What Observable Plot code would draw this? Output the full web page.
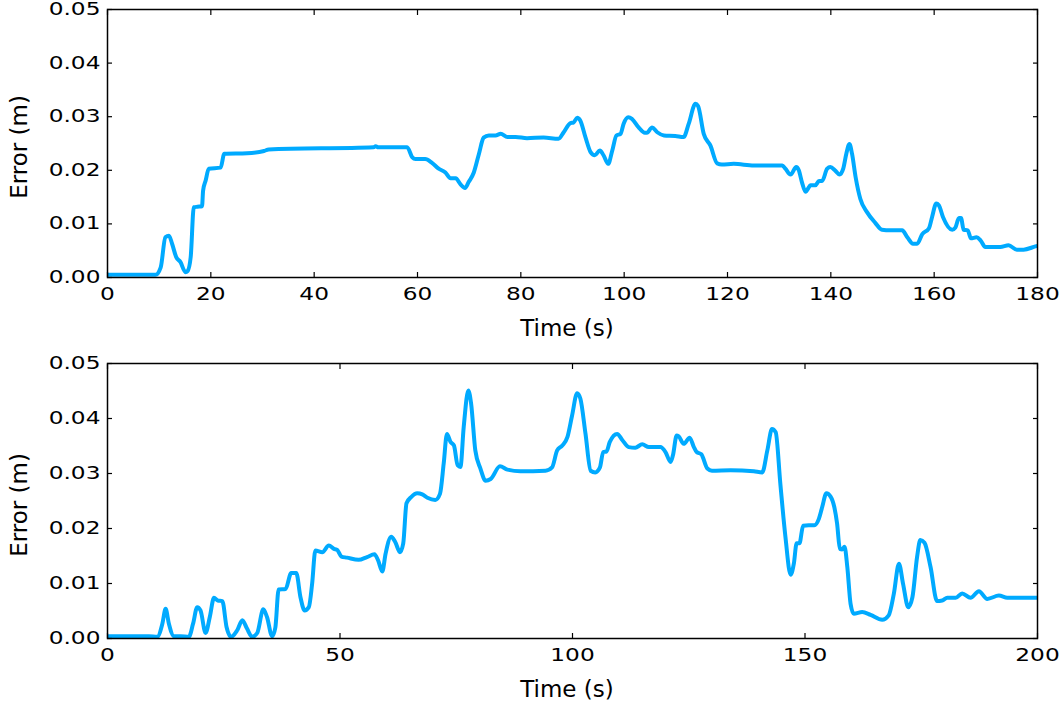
<!DOCTYPE html>
<html>
<head>
<meta charset="utf-8">
<script src="https://cdn.jsdelivr.net/npm/d3@7"></script>
<script src="https://cdn.jsdelivr.net/npm/@observablehq/plot@0.6"></script>
<style>
  html, body { margin: 0; padding: 0; background: white; }
  #chart svg { display: block; }
</style>
</head>
<body>
<div id="chart"></div>
<script>
// ---- Data ----
const topTime = [0, 9.3, 10.3, 11.2, 11.9, 12.5, 13.3, 14.1, 15.1, 15.5, 16.1, 16.7, 17.4, 18.3, 18.5, 19.0, 19.6, 21.9, 22.6, 27.0, 30.3, 31.2, 51.5, 51.9, 52.4, 58.0, 59.0, 59.6, 61.5, 62.8, 64.1, 65.4, 66.4, 67.4, 68.3, 69.2, 69.9, 70.9, 71.9, 72.8, 73.8, 75.1, 76.1, 77.4, 79.0, 81.2, 84.4, 87.3, 88.3, 89.6, 90.2, 90.9, 91.5, 92.5, 93.5, 94.3, 95.3, 96.0, 96.9, 97.7, 98.5, 99.3, 99.9, 100.8, 101.5, 102.8, 104.0, 104.4, 105.4, 106.4, 107.7, 109.9, 111.5, 112.5, 113.8, 114.3, 115.4, 116.7, 118.0, 118.9, 121.2, 125.1, 130.6, 131.2, 132.2, 133.3, 133.8, 134.4, 135.1, 136.1, 137.0, 137.7, 138.3, 139.3, 139.9, 140.9, 141.7, 142.4, 143.0, 143.6, 144.1, 144.8, 145.7, 147.0, 148.6, 149.9, 151.5, 153.8, 154.8, 155.9, 156.7, 157.7, 159.0, 159.6, 160.4, 160.9, 161.7, 163.5, 164.1, 164.8, 165.2, 165.7, 166.5, 167.1, 168.2, 169.0, 169.9, 172.8, 174.4, 176.0, 177.3, 179.6, 180];
const topError = [0.0005, 0.0005, 0.0019, 0.0075, 0.0078, 0.0063, 0.0038, 0.0029, 0.0010, 0.0012, 0.0038, 0.0131, 0.0132, 0.0133, 0.0162, 0.0181, 0.0203, 0.0205, 0.0231, 0.0232, 0.0236, 0.0239, 0.0243, 0.0245, 0.0243, 0.0243, 0.0224, 0.0221, 0.0221, 0.0214, 0.0203, 0.0196, 0.0185, 0.0185, 0.0174, 0.0167, 0.0178, 0.0196, 0.0231, 0.0261, 0.0265, 0.0265, 0.0268, 0.0262, 0.0262, 0.0260, 0.0261, 0.0259, 0.0271, 0.0288, 0.0289, 0.0298, 0.0293, 0.0262, 0.0234, 0.0228, 0.0237, 0.0228, 0.0212, 0.0237, 0.0265, 0.0268, 0.0287, 0.0299, 0.0296, 0.0280, 0.0270, 0.0270, 0.0280, 0.0271, 0.0265, 0.0264, 0.0262, 0.0287, 0.0324, 0.0320, 0.0268, 0.0246, 0.0213, 0.0211, 0.0212, 0.0209, 0.0209, 0.0203, 0.0192, 0.0206, 0.0200, 0.0178, 0.0160, 0.0172, 0.0172, 0.0180, 0.0180, 0.0203, 0.0206, 0.0199, 0.0192, 0.0203, 0.0231, 0.0249, 0.0231, 0.0187, 0.0147, 0.0122, 0.0102, 0.0089, 0.0088, 0.0088, 0.0075, 0.0063, 0.0063, 0.0081, 0.0092, 0.0113, 0.0138, 0.0135, 0.0113, 0.0089, 0.0093, 0.0111, 0.0111, 0.0089, 0.0088, 0.0073, 0.0075, 0.0069, 0.0057, 0.0057, 0.0060, 0.0052, 0.0052, 0.0058, 0.0059];

const bottomTime = [0, 8.9, 10.7, 11.8, 12.5, 13.2, 14.3, 15.7, 17.5, 18.4, 19.3, 20.0, 21.1, 22.0, 22.9, 23.7, 24.7, 25.6, 26.6, 27.9, 29.0, 30.0, 31.1, 32.2, 33.5, 34.3, 35.4, 36.1, 36.8, 38.3, 39.5, 40.6, 41.5, 42.4, 43.3, 44.0, 44.7, 46.2, 47.6, 48.7, 49.4, 50.3, 51.5, 54.0, 55.8, 57.4, 58.2, 59.1, 59.8, 61.0, 61.9, 62.9, 63.6, 64.3, 65.3, 66.6, 67.7, 68.8, 70.5, 71.5, 72.3, 73.0, 73.8, 74.5, 75.3, 75.9, 76.6, 77.6, 78.2, 79.1, 80.2, 81.3, 82.4, 84.4, 86.0, 88.8, 94.2, 95.6, 96.7, 97.8, 98.9, 99.9, 101.0, 101.7, 102.8, 103.9, 104.9, 105.9, 106.6, 107.3, 108.0, 109.6, 110.7, 112.1, 113.5, 115.0, 116.4, 118.9, 120.0, 121.1, 121.6, 122.4, 122.8, 123.9, 125.2, 126.1, 126.7, 127.7, 129.0, 130.0, 134.0, 139.0, 140.8, 141.9, 142.9, 143.7, 144.7, 145.8, 146.9, 147.6, 148.2, 148.8, 149.6, 150.8, 152.0, 153.0, 153.7, 154.6, 155.5, 156.3, 156.9, 157.5, 158.0, 158.5, 159.1, 159.8, 160.5, 162.3, 164.1, 166.6, 168.0, 169.1, 170.2, 171.1, 172.2, 173.1, 174.1, 174.8, 175.7, 177.0, 178.4, 179.5, 180.6, 182.4, 183.8, 185.6, 187.4, 189.2, 191.7, 193.5, 199.6, 200];
const bottomError = [0.0004, 0.0004, 0.0003, 0.0027, 0.0054, 0.0027, 0.0004, 0.0004, 0.0003, 0.0027, 0.0057, 0.0051, 0.0010, 0.0039, 0.0074, 0.0069, 0.0068, 0.0021, 0.0003, 0.0015, 0.0033, 0.0018, 0.0003, 0.0010, 0.0053, 0.0039, 0.0004, 0.0020, 0.0089, 0.0090, 0.0119, 0.0119, 0.0075, 0.0051, 0.0057, 0.0099, 0.0160, 0.0157, 0.0169, 0.0163, 0.0161, 0.0149, 0.0147, 0.0143, 0.0148, 0.0153, 0.0142, 0.0122, 0.0154, 0.0185, 0.0175, 0.0157, 0.0173, 0.0246, 0.0257, 0.0264, 0.0262, 0.0256, 0.0252, 0.0263, 0.0318, 0.0372, 0.0357, 0.0351, 0.0315, 0.0312, 0.0384, 0.0451, 0.0427, 0.0342, 0.0309, 0.0287, 0.0290, 0.0313, 0.0307, 0.0304, 0.0305, 0.0311, 0.0342, 0.0351, 0.0366, 0.0405, 0.0446, 0.0436, 0.0372, 0.0305, 0.0302, 0.0311, 0.0339, 0.0340, 0.0357, 0.0372, 0.0361, 0.0348, 0.0347, 0.0353, 0.0348, 0.0348, 0.0339, 0.0321, 0.0333, 0.0369, 0.0368, 0.0354, 0.0365, 0.0348, 0.0339, 0.0335, 0.0309, 0.0305, 0.0306, 0.0304, 0.0302, 0.0342, 0.0381, 0.0375, 0.0281, 0.0184, 0.0116, 0.0136, 0.0173, 0.0173, 0.0205, 0.0206, 0.0206, 0.0218, 0.0239, 0.0264, 0.0258, 0.0239, 0.0209, 0.0163, 0.0162, 0.0167, 0.0130, 0.0063, 0.0045, 0.0048, 0.0043, 0.0034, 0.0042, 0.0081, 0.0136, 0.0099, 0.0057, 0.0075, 0.0148, 0.0179, 0.0174, 0.0130, 0.0068, 0.0069, 0.0074, 0.0074, 0.0082, 0.0074, 0.0086, 0.0072, 0.0078, 0.0074, 0.0074, 0.0074];

const topXTicks = [0, 20, 40, 60, 80, 100, 120, 140, 160, 180];
const bottomXTicks = [0, 50, 100, 150, 200];
const yTicks = [0, 0.01, 0.02, 0.03, 0.04, 0.05];
const xLabel = "Time (s)";
const yLabel = "Error (m)";

// ---- Drawing ----
const lineColor = "#00aaff";
const FONT = "DejaVu Sans";

function panel({time, error, xDomain, xTicks, height, marginTop, marginBottom, yLabelCenter, xLabelBaseline}) {
  const data = time.map((t, i) => ({t, e: error[i]}));
  const svg = Plot.plot({
    width: 1062,
    height,
    marginLeft: 107,
    marginRight: 25,
    marginTop,
    marginBottom,
    style: {fontFamily: FONT, fontSize: "17px", color: "black", background: "white", overflow: "visible"},
    x: {domain: xDomain},
    y: {domain: [0, 0.05]},
    marks: [
      Plot.line(data, {x: "t", y: "e", stroke: lineColor, strokeWidth: 4, curve: "monotone-x", clip: true}),
      Plot.frame({stroke: "black", strokeWidth: 1.5}),
      // inward ticks on all four sides
      Plot.axisX(xTicks, {anchor: "bottom", tickSize: -5, tickFormat: () => "", label: null, strokeWidth: 1.2}),
      Plot.axisX(xTicks, {anchor: "top", tickSize: -5, tickFormat: () => "", label: null, strokeWidth: 1.2}),
      Plot.axisY(yTicks, {anchor: "left", tickSize: -5, tickFormat: () => "", label: null, strokeWidth: 1.2}),
      Plot.axisY(yTicks, {anchor: "right", tickSize: -5, tickFormat: () => "", label: null, strokeWidth: 1.2}),
      // tick labels
      Plot.axisX(xTicks, {anchor: "bottom", tickSize: 0, tickPadding: 10, tickFormat: d => String(d), label: null}),
      Plot.axisY(yTicks, {anchor: "left", tickSize: 0, tickPadding: 7, tickFormat: d3.format(".2f"), label: null})
    ]
  });
  const s = d3.select(svg);
  // horizontally widen tick labels like the reference
  s.selectAll('g[aria-label$="tick label"] text').each(function () {
    const el = d3.select(this);
    const tr = el.attr("transform") || "";
    el.attr("transform", tr + " scale(1.37,1)");
  });
  s.append("text")
    .attr("x", 567).attr("y", xLabelBaseline)
    .attr("text-anchor", "middle")
    .attr("font-family", FONT).attr("font-size", 23)
    .attr("fill", "black")
    .text(xLabel);
  s.append("text")
    .attr("transform", `translate(27,${yLabelCenter}) rotate(-90)`)
    .attr("text-anchor", "middle")
    .attr("font-family", FONT).attr("font-size", 23)
    .attr("fill", "black")
    .text(yLabel);
  return svg;
}

const chart = document.getElementById("chart");
chart.appendChild(panel({
  time: topTime, error: topError, xDomain: [0, 180], xTicks: topXTicks,
  height: 350, marginTop: 9, marginBottom: 73, yLabelCenter: 147, xLabelBaseline: 336
}));
chart.appendChild(panel({
  time: bottomTime, error: bottomError, xDomain: [0, 200], xTicks: bottomXTicks,
  height: 352, marginTop: 13, marginBottom: 64, yLabelCenter: 155, xLabelBaseline: 347
}));
</script>
</body>
</html>
